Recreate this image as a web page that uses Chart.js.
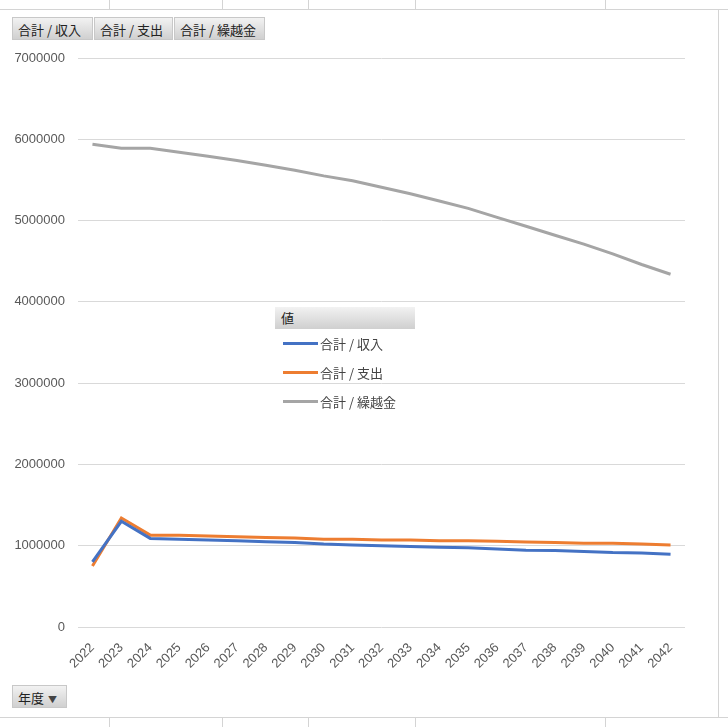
<!DOCTYPE html>
<html>
<head>
<meta charset="utf-8">
<script src="https://cdn.jsdelivr.net/npm/chart.js@4"></script>
<style>
  html, body { margin: 0; padding: 0; background: #fff; }
  body { width: 728px; height: 727px; position: relative; overflow: hidden;
         font-family: "Noto Sans CJK JP", "Liberation Sans", sans-serif; }
  #wrap { position: absolute; left: 0; top: 0; width: 728px; height: 727px; }
  .cellline { position: absolute; background: #d4d4d4; }
  .btn { position: absolute; height: 23px; line-height: 23px; font-size: 13px; color: #222;
         padding: 0 5px; background: linear-gradient(#f2f2f2, #d0d0d0); border: 1px solid #c8c8c8;
         box-sizing: border-box; white-space: nowrap; }
  .btn small { font-size: 9px; color: #444; margin-left: 4px; }
  #legend { position: absolute; left: 275px; top: 307px; width: 140px; font-size: 13px; color: #444; }
  #legend .head { height: 22px; line-height: 22px; padding-left: 6px; color: #222;
                  background: linear-gradient(#f2f2f2, #cfcfcf); }
  #legend .item { height: 29px; line-height: 29px; position: relative; padding-left: 45px; }
  #legend .item span { position: absolute; left: 8px; top: 13px; width: 35px; height: 3px; }
</style>
</head>
<body>
<div id="wrap">
  <canvas id="chart" width="728" height="727"></canvas>
</div>
<script>
const years = ['2022','2023','2024','2025','2026','2027','2028','2029','2030','2031','2032',
               '2033','2034','2035','2036','2037','2038','2039','2040','2041','2042'];
const income = [800000, 1300000, 1090000, 1080000, 1070000, 1060000, 1050000, 1040000, 1020000, 1010000, 1000000,
                990000, 980000, 975000, 960000, 945000, 940000, 930000, 915000, 910000, 895000];
const expense = [750000, 1340000, 1130000, 1130000, 1120000, 1110000, 1100000, 1095000, 1080000, 1080000, 1070000,
                 1070000, 1060000, 1060000, 1055000, 1045000, 1040000, 1030000, 1030000, 1020000, 1010000];
const carryover = [5940000, 5890000, 5890000, 5840000, 5790000, 5740000, 5680000, 5620000, 5550000, 5490000, 5410000,
                   5330000, 5240000, 5150000, 5040000, 4930000, 4820000, 4710000, 4590000, 4460000, 4340000];
const seriesNames = ['合計 / 収入', '合計 / 支出', '合計 / 繰越金'];
const seriesColors = ['#4472C4', '#ED7D31', '#A5A5A5'];
const fieldButtons = ['合計 / 収入', '合計 / 支出', '合計 / 繰越金'];
const axisButton = '年度';
const legendTitle = '値';

// spreadsheet cell borders around the chart
const wrap = document.getElementById('wrap');
function line(l, t, w, h) {
  const d = document.createElement('div');
  d.className = 'cellline';
  d.style.cssText = `left:${l}px;top:${t}px;width:${w}px;height:${h}px`;
  wrap.appendChild(d);
}
line(0, 9, 728, 1);
line(0, 717, 728, 1);
line(718, 9, 1, 709);
[109, 222, 308, 415, 605].forEach(x => { line(x, 0, 1, 9); line(x, 718, 1, 9); });

// pivot field buttons
const btnLeft = [12, 94, 174];
const btnWidth = [81, 79, 91];
fieldButtons.forEach((t, i) => {
  const b = document.createElement('div');
  b.className = 'btn';
  b.textContent = t;
  b.style.left = btnLeft[i] + 'px';
  b.style.width = btnWidth[i] + 'px';
  b.style.top = '17px';
  wrap.appendChild(b);
});
const ab = document.createElement('div');
ab.className = 'btn';
ab.innerHTML = axisButton + '<small>▼</small>';
ab.style.left = '12px';
ab.style.top = '685px';
ab.style.width = '55px';
wrap.appendChild(ab);

// legend
const lg = document.createElement('div');
lg.id = 'legend';
lg.innerHTML = '<div class="head">' + legendTitle + '</div>' +
  seriesNames.map((n, i) => `<div class="item"><span style="background:${seriesColors[i]}"></span>${n}</div>`).join('');
wrap.appendChild(lg);

const ctx = document.getElementById('chart').getContext('2d');
new Chart(ctx, {
  type: 'line',
  data: {
    labels: years,
    datasets: [income, expense, carryover].map((d, i) => ({
      label: seriesNames[i],
      data: d,
      borderColor: seriesColors[i],
      backgroundColor: seriesColors[i],
      borderWidth: 3,
      pointRadius: 0,
      tension: 0
    }))
  },
  options: {
    responsive: false,
    animation: false,
    layout: { padding: { top: 58, right: 43, bottom: 40, left: 0 } },
    plugins: { legend: { display: false }, tooltip: { enabled: false } },
    scales: {
      x: {
        offset: true,
        grid: { display: false },
        border: { display: false },
        ticks: {
          color: '#595959',
          font: { family: 'Liberation Sans', size: 13 },
          minRotation: 45, maxRotation: 45, padding: 5
        },
        afterFit: s => { s.height = 60; }
      },
      y: {
        min: 0, max: 7000000,
        border: { display: false },
        grid: { color: '#d9d9d9', drawTicks: false },
        ticks: {
          stepSize: 1000000,
          color: '#595959',
          padding: 13,
          font: { family: 'Liberation Sans', size: 13 },
          callback: v => String(v)
        },
        afterFit: s => { s.width = 78; }
      }
    }
  }
});
</script>
</body>
</html>
